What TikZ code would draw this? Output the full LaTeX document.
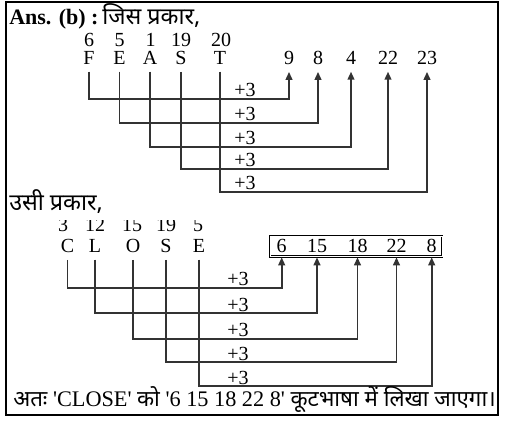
\documentclass[tikz,border=0pt]{standalone}
\usepackage{fontspec}
\setmainfont{Liberation Serif}[Ligatures=TeXOff]
\newfontfamily\hin[Script=Devanagari]{Noto Sans}
\usetikzlibrary{arrows.meta}
\begin{document}
\begin{tikzpicture}[x=0.75pt,y=-0.75pt,
  lt/.style={inner sep=0pt, outer sep=5pt, anchor=base, font=\fontsize{15}{17}\selectfont},
  conn/.style={line width=1.4pt, draw=black!80, line join=miter, -{Triangle[length=6pt,width=5pt]}},
  plus/.style={inner sep=0pt, anchor=base, font=\fontsize{15}{17}\selectfont},
  hi/.style={inner sep=0pt, anchor=base west, font=\hin\fontsize{17.5}{20}\selectfont},
  codebox/.style={draw=black, double, double distance=0.6pt, line width=0.7pt, inner sep=0pt,
    minimum width=129pt, minimum height=15.5pt}
]
\useasboundingbox (0,0) rectangle (510,427);
\draw[line width=0.9pt] (6,2) rectangle (498,415);

% heading
\node[inner sep=0pt, anchor=base west, font=\bfseries\fontsize{16.5}{19}\selectfont] (ans) at (9,25) {Ans. (b) :};
\node[hi] (jis) at (102,25) {जिस प्रकार,};

% top numbers
\node[lt] (t6) at (89,47) {6};
\node[lt] (t5) at (119.5,47) {5};
\node[lt] (t1) at (150.5,47) {1};
\node[lt] (t19) at (181,47) {19};
\node[lt] (t20) at (221,47) {20};
% top letters
\node[lt] (F) at (89,65) {F};
\node[lt] (E) at (119.5,65) {E};
\node[lt] (A) at (150,65) {A};
\node[lt] (S) at (181,65) {S};
\node[lt] (T) at (220,65) {T};
% targets
\node[lt] (r9) at (289,65) {9};
\node[lt] (r8) at (318,65) {8};
\node[lt] (r4) at (351,65) {4};
\node[lt] (r22) at (388,65) {22};
\node[lt] (r23) at (427,65) {23};

\draw[conn] (F.south) |- (r9.south |- 0,99) -- (r9.south);
\draw[conn] (E.south) |- (r8.south |- 0,123) -- (r8.south);
\draw[conn] (A.south) |- (r4.south |- 0,147) -- (r4.south);
\draw[conn] (S.south) |- (r22.south |- 0,169) -- (r22.south);
\draw[conn] (T.south) |- (r23.south |- 0,192) -- (r23.south);

\node[plus] (p1) at (245,97) {+3};
\node[plus] (p2) at (245,121) {+3};
\node[plus] (p3) at (245,145) {+3};
\node[plus] (p4) at (245,167) {+3};
\node[plus] (p5) at (245,190) {+3};

% second part
\node[hi] (usi) at (9,211) {उसी प्रकार,};

\begin{scope}
\clip (0,220.5) rectangle (510,238);
\node[lt] (b3) at (63,232) {3};
\node[lt] (b12) at (95,232) {12};
\node[lt] (b15) at (132,232) {15};
\node[lt] (b19) at (166,232) {19};
\node[lt] (b5) at (198,232) {5};
\end{scope}

\node[lt] (C) at (67.5,253) {C};
\node[lt] (L) at (95,253) {L};
\node[lt] (O) at (133,253) {O};
\node[lt] (S2) at (166,253) {S};
\node[lt] (E2) at (199,253) {E};

\node[codebox] (box) at (356,246.5) {};
\node[lt] (k6) at (281.7,253) {6};
\node[lt] (k15) at (317,253) {15};
\node[lt] (k18) at (357.5,253) {18};
\node[lt] (k22) at (396.5,253) {22};
\node[lt] (k8) at (431.7,253) {8};

\draw[conn] (C.south) |- (k6 |- 0,288) -- (k6 |- box.south);
\draw[conn] (L.south) |- (k15 |- 0,313) -- (k15 |- box.south);
\draw[conn] (O.south) |- (k18 |- 0,339) -- (k18 |- box.south);
\draw[conn] (S2.south) |- (k22 |- 0,362) -- (k22 |- box.south);
\draw[conn] (E2.south) |- (k8 |- 0,386) -- (k8 |- box.south);

\node[plus] (q1) at (238,286) {+3};
\node[plus] (q2) at (238,311) {+3};
\node[plus] (q3) at (238,337) {+3};
\node[plus] (q4) at (238,360) {+3};
\node[plus] (q5) at (238,384) {+3};

\node[inner sep=0pt, anchor=base west, font=\fontsize{16.7}{19}\selectfont] (fin) at (13,406)
  {{\hin अतः} 'CLOSE' {\hin को} '6 15 18 22 8' {\hin कूटभाषा में लिखा जाएगा।}};
\end{tikzpicture}
\end{document}
